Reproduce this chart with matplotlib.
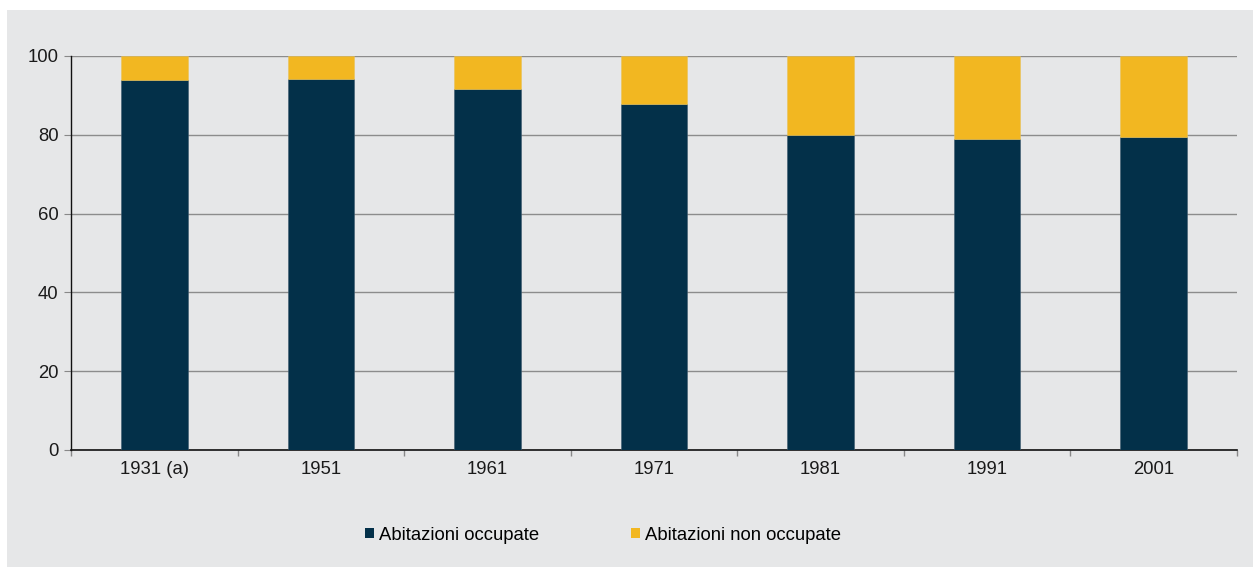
#!/usr/bin/env python3
import matplotlib

matplotlib.use("Agg")
import matplotlib.pyplot as plt
import matplotlib.patches as mpatches
import numpy as np

plt.rcParams["font.family"] = ["Liberation Sans", "DejaVu Sans"]

# data (percent of dwellings)
years = ["1931 (a)", "1951", "1961", "1971", "1981", "1991", "2001"]
occupied = [93.9, 94.2, 91.6, 87.8, 80.0, 78.9, 79.4]
not_occupied = [100 - v for v in occupied]
series_labels = ["Abitazioni occupate", "Abitazioni non occupate"]

NAVY = "#033049"
YELLOW = "#f2b721"
BG = "#e6e7e8"
FS = 13.3

W, H = 1253, 571
fig = plt.figure(figsize=(W / 100, H / 100), dpi=100)
fig.patch.set_facecolor("white")

# grey panel behind the chart
fig.patches.append(
    mpatches.Rectangle((7 / W, 1 - 567 / H), (W - 7) / W, (567 - 10) / H,
                       transform=fig.transFigure, facecolor=BG, edgecolor="none", zorder=0)
)

ax = fig.add_axes([71 / W, 1 - 450 / H, (1237 - 71) / W, (450 - 56) / H])
ax.set_zorder(2)
ax.set_facecolor("none")

x = np.arange(len(years))
ax.bar(x, occupied, width=0.4, color=NAVY, edgecolor="#3d5a6e", linewidth=0.4, zorder=3)
ax.bar(x, not_occupied, width=0.4, bottom=occupied, color=YELLOW, edgecolor="#e8c25a",
       linewidth=0.4, zorder=3)

ax.set_xlim(-0.5, len(years) - 0.5)
ax.set_ylim(0, 100)
ax.set_yticks(np.arange(0, 101, 20))
ax.tick_params(axis="y", labelsize=FS, length=5, pad=4, labelcolor="#1a1a1a", color="#888888")

ax.set_xticks(x)
ax.set_xticklabels(years, fontsize=FS, color="#1a1a1a")
ax.tick_params(axis="x", length=0, pad=8)
ax.set_xticks(np.arange(-0.5, len(years), 1.0), minor=True)
ax.tick_params(axis="x", which="minor", length=4, color="#888888", width=1)

ax.grid(axis="y", color="#8c8c8c", linewidth=1.0, zorder=1)
ax.set_axisbelow(True)
for side in ("top", "right"):
    ax.spines[side].set_visible(False)
ax.spines["left"].set_color("#111111")
ax.spines["bottom"].set_color("#111111")
ax.spines["left"].set_linewidth(1.0)
ax.spines["bottom"].set_linewidth(1.2)

handles = [
    mpatches.Patch(facecolor=NAVY, label=series_labels[0]),
    mpatches.Patch(facecolor=YELLOW, label=series_labels[1]),
]
leg = fig.legend(
    handles=handles,
    loc="center",
    bbox_to_anchor=(603 / W, 1 - 535 / H),
    ncol=2,
    frameon=False,
    fontsize=FS,
    handlelength=0.5,
    handleheight=0.5,
    handletextpad=0.25,
    columnspacing=5.0,
)
leg.set_zorder(3)

fig.savefig("out.png", dpi=100, facecolor=fig.get_facecolor())
